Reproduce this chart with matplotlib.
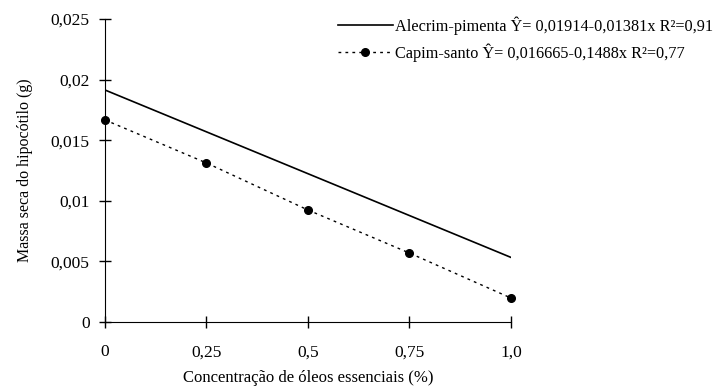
import matplotlib.pyplot as plt
import numpy as np

plt.rcParams['font.family'] = ['Liberation Serif', 'DejaVu Serif']

# concentracao (%)
conc = [0, 0.25, 0.5, 0.75, 1.0]
# Alecrim-pimenta regression endpoints
alecrim_x = [0, 1.0]
alecrim_y = [0.01914, 0.00533]
# Capim-santo observed
capim_y = [0.01667, 0.01312, 0.00924, 0.00569, 0.00198]

xticks = [0, 0.25, 0.5, 0.75, 1.0]
xlabels = ['0', '0,25', '0,5', '0,75', '1,0']
yticks = [0, 0.005, 0.01, 0.015, 0.02, 0.025]
ylabels = ['0', '0,005', '0,01', '0,015', '0,02', '0,025']

fig = plt.figure(figsize=(7.21, 3.87), dpi=100)
ax = fig.add_axes([0.1456, 0.168, 0.563, 0.783])

ax.plot(alecrim_x, alecrim_y, color='black', lw=1.2,
        label='Alecrim-pimenta Ŷ= 0,01914-0,01381x R²=0,91')
ax.plot(conc, capim_y, color='black', lw=1.0, ls=(0, (2, 3)),
        marker='o', ms=5.5, clip_on=False,
        label='Capim-santo Ŷ= 0,016665-0,1488x R²=0,77')

ax.set_xlim(0, 1.0)
ax.set_ylim(0, 0.025)
ax.set_xticks(xticks)
ax.set_xticklabels(xlabels)
ax.set_yticks(yticks)
ax.set_yticklabels(ylabels)
ax.tick_params(direction='inout', length=8, width=1, labelsize=12.5)
ax.tick_params(axis='x', pad=12)
ax.tick_params(axis='y', pad=7)
for s in ['top', 'right']:
    ax.spines[s].set_visible(False)
ax.set_xlabel('Concentração de óleos essenciais (%)', fontsize=12, labelpad=7)
ax.set_ylabel('Massa seca do hipocótilo (g)', fontsize=11.5, labelpad=13)

fig.legend(loc='upper left', bbox_to_anchor=(0.448, 0.995), frameon=False,
           fontsize=11.7, handlelength=3.4, handletextpad=0.1, labelspacing=0.5)

fig.savefig('out.png', dpi=100)
